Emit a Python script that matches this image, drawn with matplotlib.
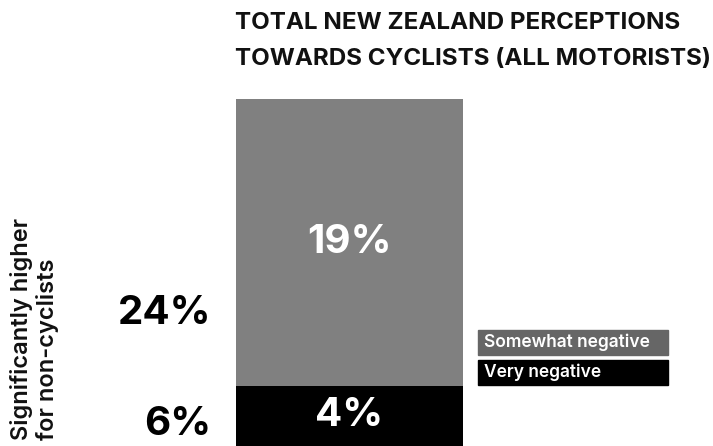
import matplotlib.pyplot as plt
from matplotlib.patches import Rectangle

plt.rcParams['font.family'] = ['Inter', 'DejaVu Sans']

title = "TOTAL NEW ZEALAND PERCEPTIONS\nTOWARDS CYCLISTS (ALL MOTORISTS)"
segments = ["Very negative", "Somewhat negative"]
values = [4, 19]
non_cyclists = [6, 24]
bar_colors = ["#000000", "#808080"]
legend_colors = ["#000000", "#666666"]
side_note = "Significantly higher\nfor non-cyclists"

W, H = 713, 446
fig = plt.figure(figsize=(W / 100, H / 100), dpi=100)
ax = fig.add_axes([0, 0, 1, 1])
# bar of width 1 centred at 0 spans px 236..463; 23 units span px 446..99
px_per_x = 227
ax.set_xlim(-349.5 / px_per_x, (W - 349.5) / px_per_x)
ax.set_ylim(0, H / (347 / 23))
ax.axis('off')

bottom = 0
for v, c in zip(values, bar_colors):
    ax.text(0, bottom + v / 2, f"{v}%", color="white", fontsize=29,
            fontweight="bold", ha="center", va="center")
    ax.bar(0, v, width=1, bottom=bottom, color=c, linewidth=0, zorder=0)
    bottom += v

# non-cyclist values, left of the bar
label_y = [1.4, 8.8]
for nv, y in zip(non_cyclists, label_y):
    ax.text(-0.61, y, f"{nv}%", color="black", fontsize=29,
            fontweight="bold", ha="right", va="center")

fig.text(10 / W, 6 / H, side_note, rotation=90, fontsize=17, fontweight="semibold",
         ha="left", va="bottom", linespacing=1.15, color="#111111")

fig.text(235 / W, 1 - 12 / H, title, fontsize=17.4, fontweight="bold",
         ha="left", va="top", linespacing=1.85, color="#111111")

# legend boxes
for i, (lab, c) in enumerate(zip(reversed(segments), reversed(legend_colors))):
    y0 = 1 - (355 + i * 30) / H
    fig.patches.append(Rectangle((478 / W, y0), 190 / W, 25 / H,
                                 transform=fig.transFigure, color=c))
    fig.text(484 / W, y0 + 12.5 / H, lab, color="white", fontsize=12.5,
             fontweight="semibold", ha="left", va="center")

fig.savefig("out.png", dpi=100)
